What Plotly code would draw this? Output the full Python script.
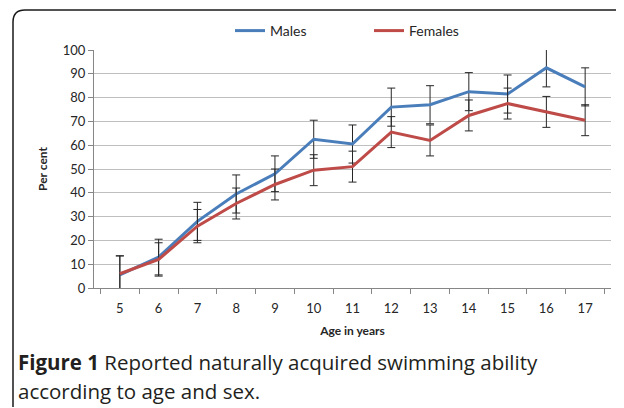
import plotly.graph_objects as go

ages = ["5", "6", "7", "8", "9", "10", "11", "12", "13", "14", "15", "16", "17"]
males = [5.5, 13, 28, 39.5, 48, 62.5, 60.5, 76, 77, 82.5, 81.5, 92.5, 84.5]
males_err = [8, 7.5, 8, 8, 7.5, 8, 8, 8, 8, 8, 8, 8, 8]
females = [6, 12, 26, 35.5, 43.5, 49.5, 51, 65.5, 62, 72.5, 77.5, 74, 70.5]
females_err = [7.5, 7, 7, 6.5, 6.5, 6.5, 6.5, 6.5, 6.5, 6.5, 6.5, 6.5, 6.5]
y_ticks = [0, 10, 20, 30, 40, 50, 60, 70, 80, 90, 100]

chart_font = "Lato"
err_style = dict(type="data", color="#262626", thickness=1, width=4)

# page body adds an 8px offset; figure sized to fit the 624x408 window
OFF = 8
W, H = 616, 400
L, R, T, B = 86, 13, 42, 120
PW, PH = W - L - R, H - T - B


def px(xp):
    return (xp - OFF - L) / PW


def py(yp):
    return (H - B - (yp - OFF)) / PH


fig = go.Figure()
fig.add_trace(go.Scatter(
    x=ages, y=males, name="Males", mode="lines",
    line=dict(color="#4a7ebb", width=3),
    error_y=dict(array=males_err, **err_style),
))
fig.add_trace(go.Scatter(
    x=ages, y=females, name="Females", mode="lines",
    line=dict(color="#be4b48", width=3),
    error_y=dict(array=females_err, **err_style),
))

fig.update_layout(
    width=W, height=H,
    margin=dict(l=L, r=R, t=T, b=B, autoexpand=False),
    paper_bgcolor="white", plot_bgcolor="white",
    font=dict(family=chart_font, size=13, color="#262626"),
    showlegend=True,
    legend=dict(orientation="h", x=px(230), xanchor="left", y=py(31), yanchor="middle",
                font=dict(size=14, family=chart_font, color="#262626"),
                itemwidth=30, entrywidth=94),
    xaxis=dict(
        type="category", tickson="boundaries", ticks="outside", ticklen=5,
        tickcolor="#868686", showline=True, linecolor="#868686", linewidth=1,
        showgrid=False, tickfont=dict(size=13, family=chart_font, color="#262626"),
        ticklabelstandoff=8, automargin=False,
        title=dict(text="<b>Age in years</b>", font=dict(size=12, family=chart_font), standoff=12),
    ),
    yaxis=dict(
        range=[0, 100], tickvals=y_ticks, ticks="outside", ticklen=5,
        tickcolor="#868686", showline=True, linecolor="#868686", linewidth=1,
        showgrid=True, gridcolor="#bfbfbf", gridwidth=1, zeroline=False,
        tickfont=dict(size=13, family=chart_font, color="#262626"),
        automargin=False,
        title=dict(text="<b>Per cent</b>", font=dict(size=12, family=chart_font), standoff=12),
    ),
)

# rounded frame around the figure (runs off the right and bottom edges)
x0, y0, r = 13, 10, 12
path = (f"M {px(623)},{py(y0)} L {px(x0 + r)},{py(y0)} "
        f"Q {px(x0)},{py(y0)} {px(x0)},{py(y0 + r)} "
        f"L {px(x0)},{py(407)}")
fig.add_shape(type="path", xref="paper", yref="paper", path=path,
              line=dict(color="#1a1a1a", width=1.5), layer="above")

cap_font = dict(family="Open Sans", size=20.5, color="#231f20")
fig.add_annotation(
    xref="paper", yref="paper", x=px(16), y=py(362), xanchor="left", yanchor="middle",
    text="<b>Figure 1</b> Reported naturally acquired swimming ability",
    showarrow=False, font=cap_font, align="left",
)
fig.add_annotation(
    xref="paper", yref="paper", x=px(16), y=py(391), xanchor="left", yanchor="middle",
    text="according to age and sex.",
    showarrow=False, font=cap_font, align="left",
)

fig.write_html("out.html")
